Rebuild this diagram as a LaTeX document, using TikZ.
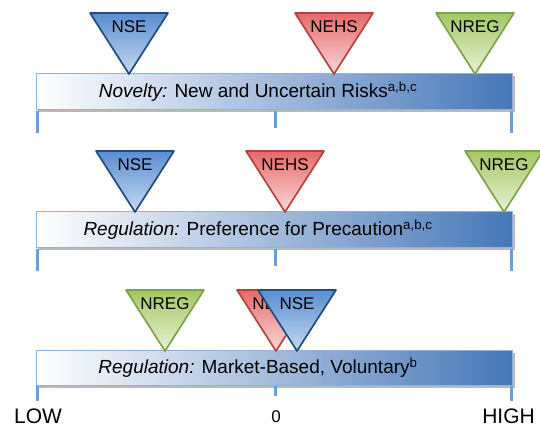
\documentclass[tikz,border=0pt]{standalone}
\usepackage{fontspec}
\setmainfont{Liberation Sans}
\definecolor{bluetop}{HTML}{5A8DD0}
\definecolor{bluebot}{HTML}{C6DAF2}
\definecolor{blueline}{HTML}{1F4E7E}
\definecolor{redtop}{HTML}{E46A6A}
\definecolor{redbot}{HTML}{FBD9D9}
\definecolor{redline}{HTML}{B8423F}
\definecolor{greentop}{HTML}{A3C763}
\definecolor{greenbot}{HTML}{E9F2D6}
\definecolor{greenline}{HTML}{7EA449}
\definecolor{barright}{HTML}{4677B8}
\definecolor{barmid}{HTML}{D3E0F1}
\definecolor{barline}{HTML}{8FB3DE}
\definecolor{tickcol}{HTML}{6D9FD5}
\tikzset{
  tick/.style={draw=tickcol, line width=3pt},
  bartext/.style={font=\fontsize{19}{22}\selectfont, inner sep=0pt},
  mlabel/.style={font=\fontsize{17}{19}\selectfont, inner sep=0pt},
  axlabel/.style={font=\fontsize{21}{24}\selectfont, inner sep=0pt},
}
\newcommand\marker[6]{%
  \shade[top color=#4top, bottom color=#4bot] (#2-39,#3-61) -- (#2+39,#3-61) -- (#2,#3) -- cycle;
  \draw[#4line, line width=1.7pt, line join=round] (#2-39,#3-61) -- (#2+39,#3-61) -- (#2,#3) -- cycle;
  \node[mlabel] (#1) at (#2,#3-47.5) {#5};}
\newcommand\scalebar[5]{% name, top, bottom, text, tick bottom
  \fill[gray!55] (38,#2+2.5) rectangle (515,#3+2.5);
  \shade[left color=white, middle color=barmid, right color=barright] (36,#2) rectangle (512,#3);
  \draw[barline, line width=1pt] (36,#2) rectangle (512,#3);
  \node[bartext] (#1) at (258,{(#2+#3)/2}) {#4};
  \draw[tick] (37,#3+1) -- (37,#5);
  \draw[tick] (275.5,#3+1) -- (275.5,#5-5);
  \draw[tick] (511,#3+1) -- (511,#5);}
\begin{document}
\begin{tikzpicture}[x=1pt,y=-1pt]
\useasboundingbox (0,0) rectangle (540,429);
% row 1
\scalebar{bar1}{73.5}{109.5}{\textit{Novelty:} New and Uncertain Risks\textsuperscript{a,b,c}}{133}
\marker{nse1}{129}{74}{blue}{NSE}{}
\marker{nehs1}{334}{74}{red}{NEHS}{}
\marker{nreg1}{475}{74}{green}{NREG}{}
% row 2
\scalebar{bar2}{211.5}{247.5}{\textit{Regulation:} Preference for Precaution\textsuperscript{a,b,c}}{271}
\marker{nse2}{135}{212}{blue}{NSE}{}
\marker{nehs2}{285}{212}{red}{NEHS}{}
\marker{nreg2}{504}{212}{green}{NREG}{}
% row 3
\scalebar{bar3}{350}{385}{\textit{Regulation:} Market-Based, Voluntary\textsuperscript{b}}{401}
\marker{nreg3}{165}{351}{green}{NREG}{}
\marker{nehs3}{276}{351}{red}{NEHS}{}
\marker{nse3}{297}{351}{blue}{NSE}{}
% axis labels
\node[axlabel, anchor=west] (low) at (14,416) {LOW};
\node[font=\fontsize{17}{19}\selectfont, inner sep=0pt] (zero) at (276,417) {0};
\node[axlabel, anchor=east] (high) at (535,416) {HIGH};
\end{tikzpicture}
\end{document}
